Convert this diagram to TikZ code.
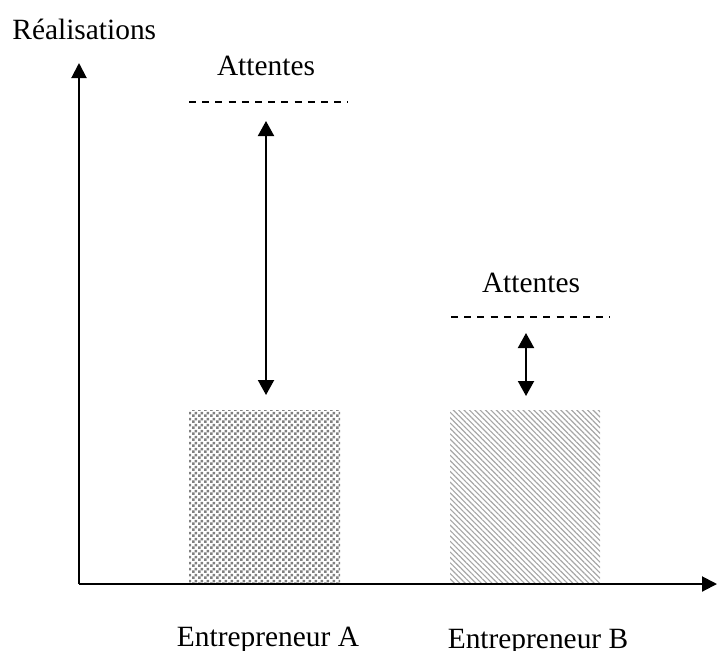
\documentclass[tikz,border=0pt]{standalone}
\usepackage{fontspec}
\setmainfont{Liberation Serif}
\usetikzlibrary{arrows.meta,patterns.meta}
\tikzdeclarepattern{
  name=mychecker,
  type=uncolored,
  bounding box={(0,0) and (3pt,3pt)},
  tile size={(3pt,3pt)},
  code={\fill (0,0) rectangle (1.5pt,1.5pt); \fill (1.5pt,1.5pt) rectangle (3pt,3pt);}
}
\tikzset{
  axis/.style={line width=1pt,-{Triangle[width=7.5pt,length=7.5pt]}},
  gap/.style={line width=1pt,{Triangle[width=8pt,length=7.5pt]}-{Triangle[width=8pt,length=7.5pt]}},
  level/.style={line width=0.7pt,dash pattern=on 3.5pt off 3.1pt},
  lbl/.style={font=\fontsize{14.7}{17}\selectfont,inner sep=0pt,anchor=base},
  barA/.style={pattern={mychecker},pattern color=black!50},
  barB/.style={pattern={Lines[angle=-45,distance=1.9pt,line width=0.6pt]},pattern color=black!35}
}
\begin{document}
\begin{tikzpicture}[x=0.5pt,y=-0.5pt]
\useasboundingbox (0,0) rectangle (717,650);
% axes
\coordinate (O) at (79,584);
\coordinate (Ytop) at (79,63);
\coordinate (Xend) at (717,584);
% bars
\fill[barA] (189,410) rectangle (340,583);
\fill[barB] (450,410) rectangle (600,583);
\draw[axis] (O) -- (Ytop);
\draw[axis] (O) -- (Xend);
% expectation levels
\coordinate (LA1) at (189,102);
\coordinate (LA2) at (348,102);
\coordinate (LB1) at (451,317);
\coordinate (LB2) at (610,317);
\draw[level] (LA1) -- (LA2);
\draw[level] (LB1) -- (LB2);
% gap arrows
\coordinate (GA1) at (266,121);
\coordinate (GA2) at (266,395);
\coordinate (GB1) at (526,333);
\coordinate (GB2) at (526,396);
\draw[gap] (GA1) -- (GA2);
\draw[gap] (GB1) -- (GB2);
% labels
\node[lbl,anchor=base west] (real) at (12,39) {Réalisations};
\node[lbl] (attA) at (266,75) {Attentes};
\node[lbl] (attB) at (531,292) {Attentes};
\node[lbl] (entA) at (268,646) {Entrepreneur A};
\node[lbl] (entB) at (538,648) {Entrepreneur B};
\end{tikzpicture}
\end{document}
